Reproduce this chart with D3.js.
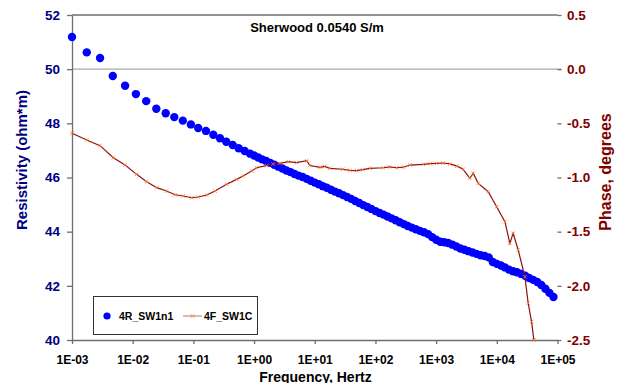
<!DOCTYPE html>
<html>
<head>
<meta charset="utf-8">
<script src="https://cdn.jsdelivr.net/npm/d3@7"></script>
<style>
    body { margin: 0; background: #fff; }
    svg { display: block; font-family: "Liberation Sans", Arial, sans-serif; font-weight: bold; }
</style>
</head>
<body>
<svg id="chart" width="624" height="383"></svg>
<script>
// --- Data ---
const titleText = "Sherwood 0.0540 S/m";
const seriesNames = ["4R_SW1n1", "4F_SW1C"];

// resistivity series (ohm*m) against frequency (Hz)
const freqRes = [
    0.001, 0.00175, 0.0029, 0.0047, 0.0075, 0.0113, 0.0167, 0.0245, 0.035, 0.0485,
    0.067, 0.091, 0.12, 0.161, 0.213, 0.274, 0.348, 0.444, 0.557, 0.70, 0.86,
    1.00, 1.17, 1.36, 1.58, 1.85, 2.15, 2.51, 2.93, 3.41, 3.98, 4.64, 5.41, 6.31, 7.36, 8.58,
    10.0, 11.7, 13.6, 15.8, 18.5, 21.5, 25.1, 29.3, 34.1, 39.8, 46.4, 54.1, 63.1, 73.6, 85.8,
    100, 117, 136, 158, 185, 215, 251, 293, 341, 398, 464, 541, 631, 736, 858,
    1000, 1170, 1360, 1580, 1850, 2150, 2510, 2930, 3410, 3980, 4640, 5410, 6310, 7360, 8580,
    10000, 11700, 13600, 15800, 18500, 21500, 25100, 29300, 34100, 39800, 46400, 54100, 63100, 73600, 85800
];
const resistivity = [
    51.19, 50.62, 50.41, 49.75, 49.39, 49.08, 48.82, 48.54, 48.37, 48.23,
    48.10, 47.96, 47.83, 47.72, 47.58, 47.45, 47.32, 47.20, 47.08, 46.98, 46.88,
    46.81, 46.74, 46.67, 46.61, 46.54, 46.47, 46.40, 46.33, 46.26, 46.20, 46.13, 46.07, 46.02, 45.95, 45.88,
    45.81, 45.75, 45.68, 45.62, 45.55, 45.48, 45.42, 45.35, 45.28, 45.21, 45.13, 45.06, 44.98, 44.91, 44.84,
    44.76, 44.69, 44.63, 44.56, 44.49, 44.42, 44.35, 44.28, 44.21, 44.15, 44.09, 44.03, 43.98, 43.91, 43.80,
    43.70, 43.63, 43.61, 43.58, 43.52, 43.45, 43.38, 43.33, 43.28, 43.23, 43.18, 43.13, 43.10, 43.05, 42.88,
    42.81, 42.75, 42.68, 42.60, 42.54, 42.50, 42.44, 42.37, 42.29, 42.22, 42.14, 42.03, 41.89, 41.74, 41.59
];

// phase series (degrees) against frequency (Hz)
const freqPhase = [
    0.001, 0.00175, 0.0029, 0.0048, 0.0075, 0.0116, 0.017, 0.025, 0.036, 0.05,
    0.068, 0.094, 0.12, 0.166, 0.227, 0.354, 0.517, 0.66, 0.91, 1.1,
    1.6, 2.07, 2.67, 3.66, 5.0, 7.4, 8.3, 12.2, 14.5, 17.8,
    29, 38, 49, 62, 81, 135, 170, 223, 290, 370,
    612, 800, 1020, 1300, 1690, 2200, 2790, 3600, 4090, 4940,
    7220, 9930, 13600, 16400, 18600, 22500, 29000, 32900, 37400, 40800
];
const phase = [
    -0.592, -0.654, -0.706, -0.817, -0.885, -0.971, -1.039, -1.094, -1.125, -1.159,
    -1.171, -1.187, -1.180, -1.162, -1.125, -1.063, -1.017, -0.986, -0.940, -0.910,
    -0.891, -0.875, -0.869, -0.854, -0.863, -0.845, -0.889, -0.906, -0.898, -0.915,
    -0.924, -0.935, -0.937, -0.928, -0.915, -0.910, -0.902, -0.910, -0.905, -0.885,
    -0.878, -0.872, -0.869, -0.866, -0.875, -0.895, -0.924, -1.007, -0.961, -1.054,
    -1.131, -1.270, -1.408, -1.608, -1.515, -1.669, -1.916, -2.161, -2.331, -2.500
];

// axis ticks
const xTicks = [1e-3, 1e-2, 1e-1, 1e0, 1e1, 1e2, 1e3, 1e4, 1e5];
const xTickLabels = ["1E-03", "1E-02", "1E-01", "1E+00", "1E+01", "1E+02", "1E+03", "1E+04", "1E+05"];
const yLeftTicks = [40, 42, 44, 46, 48, 50, 52];
const yRightTicks = [-2.5, -2.0, -1.5, -1.0, -0.5, 0.0, 0.5];
const yRightTickLabels = ["-2.5", "-2.0", "-1.5", "-1.0", "-0.5", "0.0", "0.5"];

// --- Layout ---
const plotLeft = 72, plotRight = 557.5, plotTop = 15, plotBottom = 340;
const navy = "#000080";
const maroon = "#800000";

const svg = d3.select("#chart");

const x = d3.scaleLog().domain([1e-3, 1e5]).range([plotLeft, plotRight]);
const yLeft = d3.scaleLinear().domain([40, 52]).range([plotBottom, plotTop]);
const yRight = d3.scaleLinear().domain([-2.5, 0.5]).range([plotBottom, plotTop]);

// --- Gridlines ---
svg.append("line")
    .attr("x1", plotLeft).attr("x2", plotRight + 4)
    .attr("y1", yLeft(50)).attr("y2", yLeft(50))
    .attr("stroke", "#a8a8a8").attr("stroke-width", 1.3);

svg.append("line")
    .attr("x1", plotLeft).attr("x2", plotRight)
    .attr("y1", yLeft(52)).attr("y2", yLeft(52))
    .attr("stroke", "#6e6e6e").attr("stroke-width", 1.3);

// --- Axes ---
const xAxis = svg.append("g")
    .attr("transform", `translate(0,${plotBottom})`)
    .call(d3.axisBottom(x)
        .tickValues(xTicks)
        .tickFormat((d, i) => xTickLabels[i])
        .tickSize(4)
        .tickSizeOuter(0)
        .tickPadding(11));
xAxis.selectAll("text").attr("font-size", 12).attr("fill", "#000");

const leftAxis = svg.append("g")
    .attr("transform", `translate(${plotLeft},0)`)
    .call(d3.axisLeft(yLeft)
        .tickValues(yLeftTicks)
        .tickFormat(d3.format("d"))
        .tickSize(5)
        .tickSizeOuter(0)
        .tickPadding(7));
leftAxis.selectAll("text").attr("font-size", 13.5).attr("fill", navy);

const rightAxis = svg.append("g")
    .attr("transform", `translate(${plotRight},0)`)
    .call(d3.axisRight(yRight)
        .tickValues(yRightTicks)
        .tickFormat((d, i) => yRightTickLabels[i])
        .tickSize(4)
        .tickSizeOuter(0)
        .tickPadding(5.5));
rightAxis.select(".domain").remove();
rightAxis.selectAll("text").attr("font-size", 13.5).attr("fill", maroon);

// axis line colours like the original
svg.selectAll(".domain, .tick line").attr("stroke", "#6e6e6e").attr("stroke-width", 1.3);

// --- Titles ---
svg.append("text")
    .attr("x", 317).attr("y", 31.5)
    .attr("text-anchor", "middle")
    .attr("font-size", 13)
    .text(titleText);

svg.append("text")
    .attr("x", 315.5).attr("y", 381.5)
    .attr("text-anchor", "middle")
    .attr("font-size", 14)
    .text("Frequency, Hertz");

svg.append("text")
    .attr("transform", "translate(27,160) rotate(-90)")
    .attr("text-anchor", "middle")
    .attr("font-size", 15)
    .attr("fill", navy)
    .text("Resistivity (ohm*m)");

svg.append("text")
    .attr("transform", "translate(611,172) rotate(-90)")
    .attr("text-anchor", "middle")
    .attr("font-size", 16)
    .attr("fill", maroon)
    .text("Phase, degrees");

// --- Series 1: resistivity dots ---
svg.append("g")
    .selectAll("circle")
    .data(freqRes)
    .join("circle")
    .attr("cx", (d) => x(d))
    .attr("cy", (d, i) => yLeft(resistivity[i]))
    .attr("r", 4.2)
    .attr("fill", "#0000ff");

// --- Series 2: phase line with x markers ---
const phasePts = freqPhase.map((f, i) => [x(f), yRight(phase[i])]);

svg.append("path")
    .attr("d", d3.line()(phasePts))
    .attr("fill", "none")
    .attr("stroke", "#8b1010")
    .attr("stroke-width", 1.2);

function xMarker(g, cx, cy, s) {
    g.append("path")
        .attr("d", `M${cx - s},${cy - s}L${cx + s},${cy + s}M${cx - s},${cy + s}L${cx + s},${cy - s}`)
        .attr("stroke", "#ff7a30")
        .attr("stroke-opacity", 0.8)
        .attr("stroke-width", 1);
}

const markers = svg.append("g");
phasePts.forEach(([px, py]) => xMarker(markers, px, py, 1.8));

// --- Legend ---
const legend = svg.append("g");
legend.append("rect")
    .attr("x", 93.5).attr("y", 296.5)
    .attr("width", 164).attr("height", 38)
    .attr("fill", "#fff")
    .attr("stroke", "#333")
    .attr("stroke-width", 1);

legend.append("circle")
    .attr("cx", 107).attr("cy", 316).attr("r", 3.6)
    .attr("fill", "#0000ff");
legend.append("text")
    .attr("x", 119).attr("y", 320)
    .attr("font-size", 10.5)
    .text(seriesNames[0]);

legend.append("line")
    .attr("x1", 183).attr("x2", 202)
    .attr("y1", 316).attr("y2", 316)
    .attr("stroke", "#c58a8a").attr("stroke-width", 1.2);
xMarker(legend, 192.5, 316, 1.8);
legend.append("text")
    .attr("x", 204).attr("y", 320)
    .attr("font-size", 10.5)
    .text(seriesNames[1]);
</script>
</body>
</html>
